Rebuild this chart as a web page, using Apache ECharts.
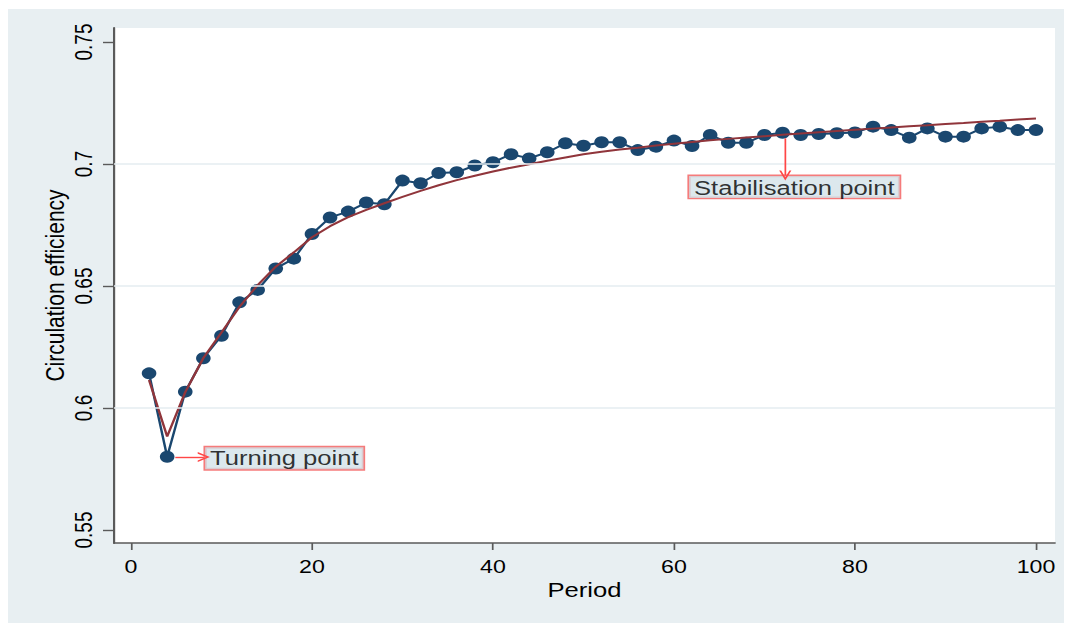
<!DOCTYPE html>
<html><head><meta charset="utf-8">
<script src="https://cdn.jsdelivr.net/npm/echarts@6/dist/echarts.min.js"></script>
<style>
html,body{margin:0;padding:0;background:#ffffff;width:1072px;height:624px;overflow:hidden}
#wrap{position:absolute;left:8px;top:9px;width:866px;height:614px;transform:scaleX(1.2194);transform-origin:0 0;background:#e8eff2}
#chart{width:866px;height:614px}
</style></head><body>
<div id="wrap"><div id="chart"></div></div>
<script>
const periods = [2,4,6,8,10,12,14,16,18,20,22,24,26,28,30,32,34,36,38,40,42,44,46,48,50,52,54,56,58,60,62,64,66,68,70,72,74,76,78,80,82,84,86,88,90,92,94,96,98,100];
const efficiency = [0.6142,0.5800,0.6067,0.6204,0.6296,0.6433,0.6484,0.6572,0.6612,0.6713,
                    0.6781,0.6805,0.6842,0.6835,0.6932,0.6921,0.6963,0.6966,0.6994,0.7007,
                    0.7040,0.7023,0.7048,0.7085,0.7075,0.7089,0.7089,0.7057,0.7071,0.7096,
                    0.7074,0.7119,0.7087,0.7087,0.7119,0.7128,0.7119,0.7123,0.7126,0.7129,
                    0.7153,0.7139,0.7108,0.7146,0.7112,0.7112,0.7146,0.7153,0.7139,0.7139];
const fitted = [0.6115,0.5883,0.6065,0.6205,0.6309,0.6415,0.6504,0.6579,0.6638,0.6700,
                0.6745,0.6782,0.6812,0.6839,0.6865,0.6890,0.6913,0.6934,0.6952,0.6969,
                0.6985,0.6999,0.7013,0.7027,0.7040,0.7050,0.7059,0.7067,0.7076,0.7083,
                0.7090,0.7097,0.7103,0.7109,0.7114,0.7120,0.7125,0.7130,0.7135,0.7140,
                0.7145,0.7150,0.7155,0.7159,0.7164,0.7168,0.7173,0.7177,0.7182,0.7186];
const xTicks = [0,20,40,60,80,100];
const yTicks = [0.55,0.6,0.65,0.7,0.75];
const gridValues = [0.6,0.65,0.7];
const xTitle = 'Period';
const yTitle = 'Circulation efficiency';
const turningText = 'Turning point';
const turningArrow = [[4.9,0.5799],[8.05,0.5799]];
const turningLabel = [8.2,0.5794];
const stabText = 'Stabilisation point';
const stabArrow = [[72.3,0.7105],[72.3,0.6953]];
const stabLabel = [73.3,0.6951];

const NAVY = '#1a476f', MAROON = '#90353b', ARROW = '#ff4646';
const FONT = '"Liberation Sans", Arial, sans-serif';
const chevron = 'path://M0,10L5,0L10,10L8.4,10L5,3.2L1.6,10Z';
const labelBox = {
  show: true, fontSize: 21, lineHeight: 21, fontFamily: FONT, color: '#000000',
  backgroundColor: '#d3e2e9', borderColor: '#f25a5a', borderWidth: 1.4, padding: [1, 4, 0, 4]
};

const chart = echarts.init(document.getElementById('chart'), null, {renderer: 'svg'});
chart.setOption({
  animation: false,
  backgroundColor: 'transparent',
  grid: {left: 86.9, right: 7.4, top: 19, bottom: 80, show: true, backgroundColor: '#ffffff', borderWidth: 0},
  xAxis: {
    type: 'value', min: -1.878, max: 102.1,
    name: xTitle, nameLocation: 'middle', nameGap: 36, nameMoveOverlap: false,
    nameTextStyle: {fontSize: 21, fontFamily: FONT, color: '#000000'},
    axisLine: {show: true, onZero: false, lineStyle: {color: '#5a5a5a', width: 1.6}},
    axisTick: {show: true, length: 7, customValues: xTicks, lineStyle: {color: '#5a5a5a', width: 1.4}},
    axisLabel: {customValues: xTicks, margin: 14, fontSize: 19, fontFamily: FONT, color: '#000000'},
    splitLine: {show: false}
  },
  yAxis: {
    type: 'value', min: 0.54467, max: 0.75574,
    name: yTitle, nameLocation: 'middle', nameGap: 38, nameRotate: 90, nameMoveOverlap: false,
    nameTextStyle: {fontSize: 21, fontFamily: FONT, color: '#000000'},
    axisLine: {show: true, onZero: false, lineStyle: {color: '#5a5a5a', width: 1.8}},
    axisTick: {show: true, length: 9, customValues: yTicks, lineStyle: {color: '#5a5a5a', width: 1.4}},
    axisLabel: {customValues: yTicks, rotate: 90, margin: 15, fontSize: 19, fontFamily: FONT, color: '#000000'},
    splitLine: {show: false}
  },
  series: [
    {
      type: 'line', data: [], z: 1, silent: true,
      markLine: {
        silent: true, symbol: ['none', 'none'], label: {show: false},
        lineStyle: {color: '#e4edf0', width: 1.6, type: 'solid'},
        data: gridValues.map(v => ({yAxis: v}))
      }
    },
    {
      type: 'line', z: 2, data: periods.map((p, i) => [p, efficiency[i]]),
      symbol: 'circle', symbolSize: 12, showSymbol: true,
      itemStyle: {color: NAVY}, lineStyle: {color: NAVY, width: 2}
    },
    {
      type: 'line', z: 3, data: periods.map((p, i) => [p, fitted[i]]),
      symbol: 'none', lineStyle: {color: MAROON, width: 2}
    },
    {
      type: 'scatter', z: 4, symbolSize: 0, silent: true,
      data: [
        {value: turningLabel, label: Object.assign({}, labelBox, {position: 'right', distance: 0, formatter: turningText})},
        {value: stabLabel, label: Object.assign({}, labelBox, {position: 'bottom', distance: 0, formatter: stabText})}
      ],
      markLine: {
        silent: true, symbol: ['none', chevron], symbolSize: [10, 10], label: {show: false},
        lineStyle: {color: ARROW, width: 1.4, type: 'solid'},
        data: [
          [{coord: turningArrow[0]}, {coord: turningArrow[1]}],
          [{coord: stabArrow[0]}, {coord: stabArrow[1]}]
        ]
      }
    }
  ]
});
</script>
</body></html>
